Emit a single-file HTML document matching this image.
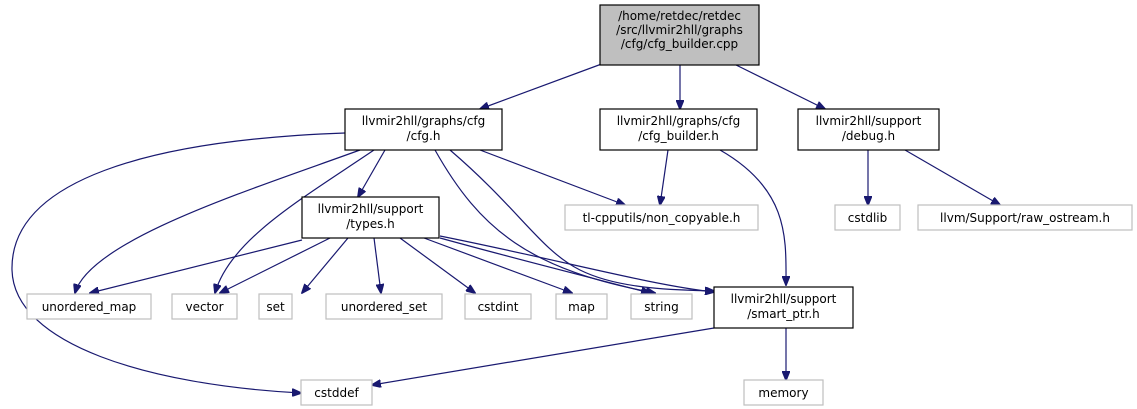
<!DOCTYPE html>
<html><head><meta charset="utf-8"><style>
html,body{margin:0;padding:0;background:#fff;width:1137px;height:409px;overflow:hidden}
text{font-family:"DejaVu Sans","Liberation Sans",sans-serif;font-size:12px;fill:#000}
.e{fill:none;stroke:#191970;stroke-width:1.2}
.n{fill:#fff;stroke:#000;stroke-width:1.2}
.g{fill:#fff;stroke:#bfbfbf;stroke-width:1.2}
</style></head><body>
<svg width="1137" height="409" xmlns="http://www.w3.org/2000/svg">
<defs><marker id="a" markerWidth="10" markerHeight="8" refX="9" refY="4" orient="auto" markerUnits="userSpaceOnUse"><path d="M0,0 L10,4 L0,8 z" fill="#191970" stroke="#191970"/></marker></defs>
<g marker-end="url(#a)">
<path class="e" d="M607,62 L480,109"/>
<path class="e" d="M680,65 L680,109"/>
<path class="e" d="M730,62 L825,109"/>
<path class="e" d="M385,150 L358,197"/>
<path class="e" d="M480,150 L625,205"/>
<path class="e" d="M360,150 C250,190 90,240 75,293"/>
<path class="e" d="M374,150 C300,200 230,240 215,293"/>
<path class="e" d="M435,150 C480,230 530,270 655,293"/>
<path class="e" d="M450,150 C520,210 540,250 580,270 C620,290 680,290 714,291"/>
<path class="e" d="M345,133 C150,140 10,180 12,270 C14,345 150,385 301,393"/>
<path class="e" d="M668,150 L660,205"/>
<path class="e" d="M720,150 C790,190 786,240 786,285"/>
<path class="e" d="M868,150 L868,205"/>
<path class="e" d="M905,150 L1000,205"/>
<path class="e" d="M302,240 L90,293"/>
<path class="e" d="M330,238 L220,293"/>
<path class="e" d="M348,238 L302,293"/>
<path class="e" d="M374,238 L381,293"/>
<path class="e" d="M400,238 L475,293"/>
<path class="e" d="M424,238 L572,293"/>
<path class="e" d="M440,238 C520,260 600,280 650,293"/>
<path class="e" d="M440,236 C560,260 650,285 714,292"/>
<path class="e" d="M714,328 L372,385"/>
<path class="e" d="M786,328 L786,380"/>
</g>
<rect x="600" y="5" width="159" height="60" fill="#bfbfbf" stroke="#000" stroke-width="1.2"/>
<text x="679.5" y="20" text-anchor="middle">/home/retdec/retdec</text>
<text x="679.5" y="34" text-anchor="middle">/src/llvmir2hll/graphs</text>
<text x="679.5" y="48" text-anchor="middle">/cfg/cfg_builder.cpp</text>
<rect class="n" x="345" y="109" width="157" height="41"/>
<text x="423.5" y="125" text-anchor="middle">llvmir2hll/graphs/cfg</text>
<text x="423.5" y="140" text-anchor="middle">/cfg.h</text>
<rect class="n" x="600" y="109" width="157" height="41"/>
<text x="678.5" y="125" text-anchor="middle">llvmir2hll/graphs/cfg</text>
<text x="678.5" y="140" text-anchor="middle">/cfg_builder.h</text>
<rect class="n" x="798" y="109" width="141" height="41"/>
<text x="868.5" y="125" text-anchor="middle">llvmir2hll/support</text>
<text x="868.5" y="140" text-anchor="middle">/debug.h</text>
<rect class="n" x="302" y="197" width="137" height="41"/>
<text x="370.5" y="213" text-anchor="middle">llvmir2hll/support</text>
<text x="370.5" y="228" text-anchor="middle">/types.h</text>
<rect class="n" x="714" y="287" width="139" height="41"/>
<text x="783.5" y="303" text-anchor="middle">llvmir2hll/support</text>
<text x="783.5" y="318" text-anchor="middle">/smart_ptr.h</text>
<rect class="g" x="565" y="205" width="193" height="25"/><text x="661.5" y="222" text-anchor="middle">tl-cpputils/non_copyable.h</text>
<rect class="g" x="835" y="205" width="65" height="25"/><text x="867.5" y="222" text-anchor="middle">cstdlib</text>
<rect class="g" x="918" y="205" width="214" height="25"/><text x="1025" y="222" text-anchor="middle">llvm/Support/raw_ostream.h</text>
<rect class="g" x="27" y="294" width="124" height="25"/><text x="89" y="311" text-anchor="middle">unordered_map</text>
<rect class="g" x="172" y="294" width="65" height="25"/><text x="204.5" y="311" text-anchor="middle">vector</text>
<rect class="g" x="259" y="294" width="33" height="25"/><text x="275.5" y="311" text-anchor="middle">set</text>
<rect class="g" x="326" y="294" width="116" height="25"/><text x="384" y="311" text-anchor="middle">unordered_set</text>
<rect class="g" x="465" y="294" width="66" height="25"/><text x="498" y="311" text-anchor="middle">cstdint</text>
<rect class="g" x="556" y="294" width="51" height="25"/><text x="581.5" y="311" text-anchor="middle">map</text>
<rect class="g" x="631" y="294" width="61" height="25"/><text x="661.5" y="311" text-anchor="middle">string</text>
<rect class="g" x="301" y="380" width="71" height="25"/><text x="336.5" y="397" text-anchor="middle">cstddef</text>
<rect class="g" x="744" y="380" width="79" height="25"/><text x="783.5" y="397" text-anchor="middle">memory</text>
</svg>
</body></html>
